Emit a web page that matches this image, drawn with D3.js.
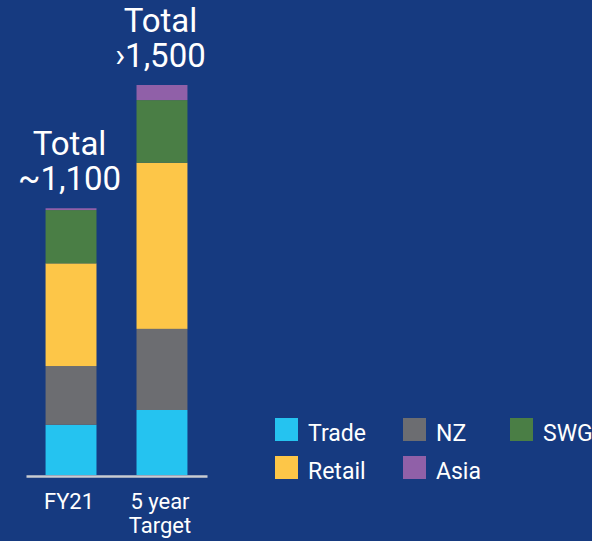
<!DOCTYPE html>
<html>
<head>
<meta charset="utf-8">
<script src="https://cdn.jsdelivr.net/npm/d3@7"></script>
<style>
  html, body { margin: 0; padding: 0; background: #163a80; }
  svg { display: block; font-family: Roboto, "DejaVu Sans", sans-serif; }
</style>
</head>
<body>
<div id="chart"></div>
<script>
const categories = ['FY21', '5 year\nTarget'];
const totalLabels = [['Total', '~1,100'], ['Total', '\u203A1,500']];
const seriesNames = ['Trade', 'NZ', 'Retail', 'SWG', 'Asia'];
const seriesColors = ['#25c3f0', '#6c6d71', '#fdc648', '#4a7e45', '#9060a8'];
const trade = [193, 250];
const nz = [226, 312];
const retail = [395, 639];
const swg = [205, 241];
const asia = [7, 58];
// legend order as laid out in the picture
const legendRows = [['Trade', 'NZ', 'SWG'], ['Retail', 'Asia']];

const width = 592, height = 541;
const baseY = 475;

const rows = categories.map((c, i) => ({
    cat: c,
    Trade: trade[i], NZ: nz[i], Retail: retail[i], SWG: swg[i], Asia: asia[i]
}));

const svg = d3.select('#chart').append('svg')
    .attr('width', width)
    .attr('height', height);

svg.append('rect')
    .attr('width', width).attr('height', height)
    .attr('fill', '#163a80');

const xScale = d3.scaleBand()
    .domain(categories)
    .range([26, 207])
    .paddingInner(0.44)
    .paddingOuter(0.215);

const yScale = d3.scaleLinear()
    .domain([0, 1500])
    .range([baseY, 85]);

const colorScale = d3.scaleOrdinal()
    .domain(seriesNames)
    .range(seriesColors);

const stacked = d3.stack().keys(seriesNames)(rows);

svg.append('g').selectAll('g')
    .data(stacked)
    .join('g')
    .attr('fill', d => colorScale(d.key))
    .selectAll('rect')
    .data(d => d)
    .join('rect')
    .attr('x', d => xScale(d.data.cat))
    .attr('width', xScale.bandwidth())
    .attr('y', d => yScale(d[1]))
    .attr('height', d => yScale(d[0]) - yScale(d[1]));

// total labels above each bar (one text, two lines)
const topLayer = stacked[stacked.length - 1];
const totals = svg.append('g')
    .attr('fill', '#fff')
    .attr('font-size', 33)
    .attr('text-anchor', 'middle');
categories.forEach((c, i) => {
    const cx = xScale(c) + xScale.bandwidth() / 2 - 1.5;
    const ty = yScale(topLayer[i][1]);
    const t = totals.append('text').attr('x', cx).attr('y', ty - 53);
    t.append('tspan').attr('x', cx).text(totalLabels[i][0]);
    t.append('tspan').attr('x', cx).attr('dy', 35).text(totalLabels[i][1]);
});

// x axis
const xAxis = svg.append('g')
    .attr('transform', `translate(0,${baseY + 1})`)
    .call(d3.axisBottom(xScale).tickSize(0).tickPadding(0));
xAxis.select('.domain')
    .attr('stroke', '#c9ccd2')
    .attr('stroke-width', 2.5);
xAxis.selectAll('.tick text')
    .attr('fill', '#fff')
    .attr('font-size', 22)
    .attr('font-family', 'Roboto, sans-serif')
    .attr('dy', null)
    .attr('y', 33)
    .each(function(d) {
        const t = d3.select(this);
        const lines = d.split('\n');
        t.text(null);
        lines.forEach((l, k) => {
            t.append('tspan').attr('x', -2).attr('dy', k === 0 ? 0 : 24).text(l);
        });
    });

// legend
const legendX = [275, 403, 510];
const legendY = [418, 456];
const legend = svg.append('g');
legendRows.forEach((row, r) => {
    row.forEach((name, c) => {
        const g = legend.append('g')
            .attr('transform', `translate(${legendX[c]},${legendY[r]})`);
        g.append('rect')
            .attr('width', 23).attr('height', 23)
            .attr('fill', colorScale(name));
        g.append('text')
            .attr('x', 33).attr('y', 22.5)
            .attr('fill', '#fff')
            .attr('font-size', 23)
            .text(name);
    });
});
</script>
</body>
</html>
